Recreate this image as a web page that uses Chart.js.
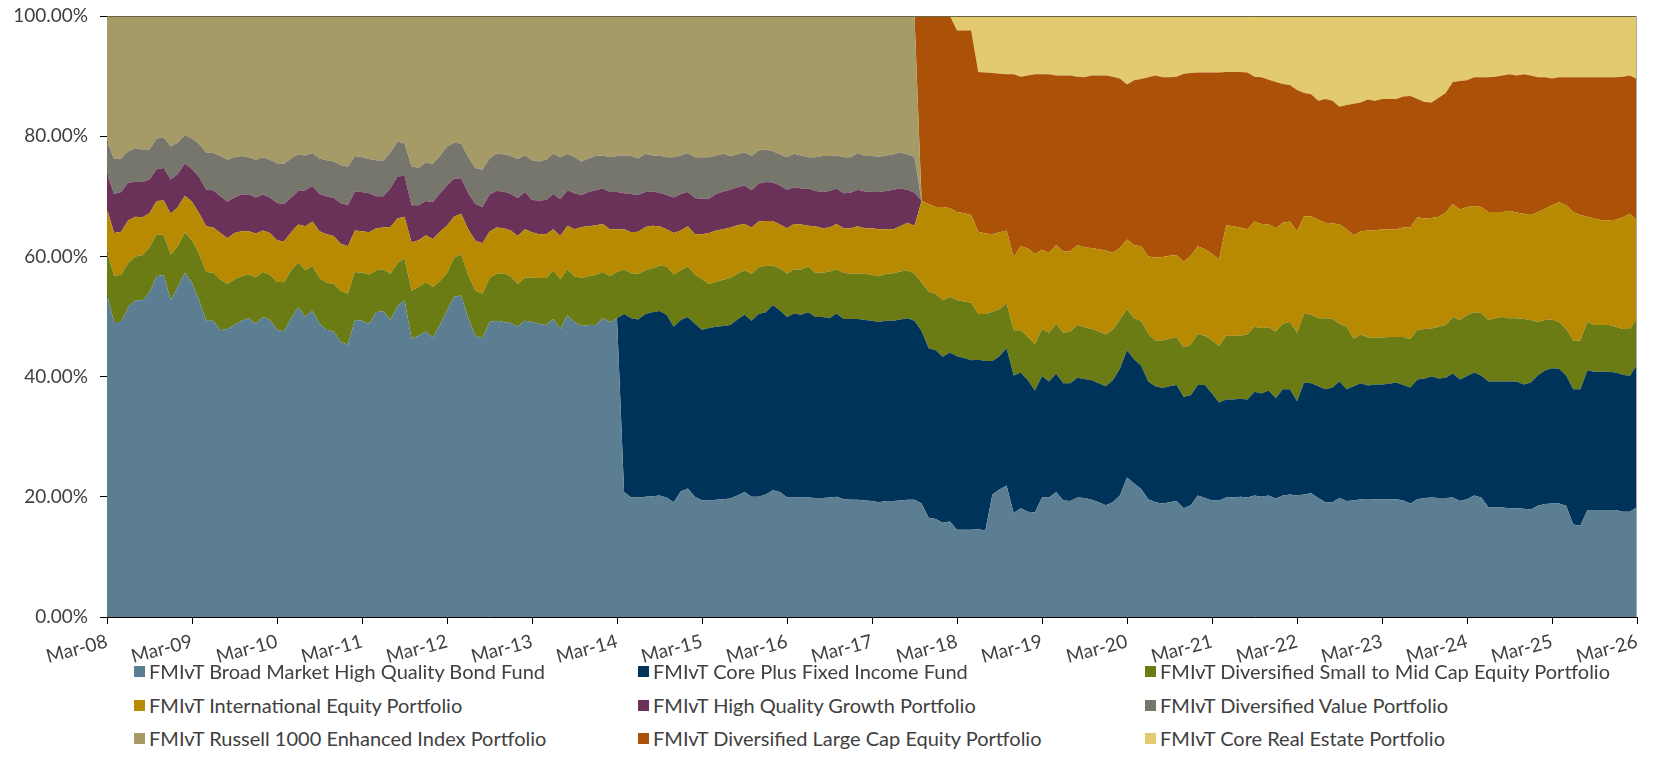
<!DOCTYPE html>
<html>
<head>
<meta charset="utf-8">
<title>FMIvT allocation</title>
<script src="https://cdn.jsdelivr.net/npm/chart.js@4.4.1/dist/chart.umd.min.js"></script>
<style>
    body { margin: 0; background: #ffffff; }
    #wrap { position: relative; width: 1654px; height: 782px; overflow: hidden; }
    #allocationChart { position: absolute; left: 0; top: 0; }
    .legendItem {
        position: absolute;
        display: flex;
        align-items: center;
        height: 24px;
        white-space: nowrap;
        font-family: Lato, "Open Sans", sans-serif;
        font-size: 20px;
        color: #404040;
    }
    .legendBox { width: 11px; height: 11px; margin-right: 4px; }
</style>
</head>
<body>
<div id="wrap">
    <canvas id="allocationChart" width="1654" height="672"></canvas>
    <div id="legend"></div>
</div>
<script>
// monthly data, Mar-08 .. Mar-26 (217 months), percent of plan assets
const monthNames = ['Jan', 'Feb', 'Mar', 'Apr', 'May', 'Jun', 'Jul', 'Aug', 'Sep', 'Oct', 'Nov', 'Dec'];
const firstYear = 2008;
const firstMonth = 2; // March
const monthCount = 217;

const seriesNames = [
    'FMIvT Broad Market High Quality Bond Fund',
    'FMIvT Core Plus Fixed Income Fund',
    'FMIvT Diversified Small to Mid Cap Equity Portfolio',
    'FMIvT International Equity Portfolio',
    'FMIvT High Quality Growth Portfolio',
    'FMIvT Diversified Value Portfolio',
    'FMIvT Russell 1000 Enhanced Index Portfolio',
    'FMIvT Diversified Large Cap Equity Portfolio',
    'FMIvT Core Real Estate Portfolio'
];
const seriesColors = ['#5b7e92', '#003359', '#6a7c13', '#b88a02', '#6a3259', '#77766c', '#a69a67', '#ab5108', '#e3ca6f'];

const bondFund = [
    53.6, 49.1, 49.1, 51.6, 52.7, 52.7, 54.0, 56.7, 56.9, 52.7, 54.9, 57.3,
    55.6, 52.7, 49.3, 49.3, 47.7, 47.9, 48.6, 49.3, 49.7, 48.8, 49.9, 49.4,
    47.8, 47.5, 49.7, 51.6, 49.9, 51.0, 48.8, 47.8, 47.5, 45.8, 45.3, 49.4,
    49.3, 48.8, 50.7, 50.9, 49.4, 51.7, 52.7, 46.3, 46.8, 47.5, 46.5, 48.6,
    51.0, 53.3, 53.5, 49.7, 46.8, 46.4, 49.1, 49.3, 49.1, 48.9, 48.3, 49.3,
    49.1, 48.8, 48.6, 49.6, 47.9, 50.2, 49.1, 48.4, 48.6, 48.6, 49.7, 49.1,
    49.7, 20.8, 19.9, 19.9, 20.0, 20.1, 20.2, 19.9, 19.1, 20.9, 21.4, 20.0,
    19.4, 19.4, 19.5, 19.6, 19.7, 20.2, 20.8, 20.0, 20.0, 20.4, 21.1, 20.8,
    19.9, 19.9, 19.9, 19.9, 19.8, 19.8, 19.9, 20.0, 19.6, 19.5, 19.5, 19.4,
    19.3, 19.1, 19.3, 19.3, 19.4, 19.5, 19.5, 18.9, 16.5, 16.3, 15.7, 15.9,
    14.5, 14.5, 14.5, 14.6, 14.4, 20.4, 21.2, 21.9, 17.3, 18.1, 17.5, 17.4,
    19.9, 19.9, 20.8, 19.4, 19.3, 19.9, 19.8, 19.5, 19.1, 18.6, 19.1, 20.2,
    23.2, 22.2, 21.3, 19.6, 19.1, 18.9, 19.1, 19.3, 18.1, 18.6, 20.2, 19.8,
    19.4, 19.4, 19.9, 19.9, 20.0, 19.9, 20.2, 20.0, 20.2, 19.7, 20.2, 20.4,
    20.2, 20.4, 20.6, 19.8, 19.1, 19.1, 19.8, 19.3, 19.4, 19.6, 19.5, 19.6,
    19.6, 19.6, 19.6, 19.4, 18.9, 19.6, 19.8, 19.9, 19.8, 19.8, 19.9, 19.3,
    19.6, 20.2, 19.9, 18.3, 18.2, 18.2, 18.1, 18.1, 18.0, 17.9, 18.5, 18.8,
    18.9, 18.9, 18.5, 15.4, 15.2, 17.8, 17.8, 17.8, 17.8, 17.8, 17.5, 17.5,
    18.3
];

const corePlus = [
    0, 0, 0, 0, 0, 0, 0, 0, 0, 0, 0, 0,
    0, 0, 0, 0, 0, 0, 0, 0, 0, 0, 0, 0,
    0, 0, 0, 0, 0, 0, 0, 0, 0, 0, 0, 0,
    0, 0, 0, 0, 0, 0, 0, 0, 0, 0, 0, 0,
    0, 0, 0, 0, 0, 0, 0, 0, 0, 0, 0, 0,
    0, 0, 0, 0, 0, 0, 0, 0, 0, 0, 0, 0,
    0, 29.6, 29.8, 29.6, 30.4, 30.6, 30.7, 30.4, 29.2, 28.5, 28.5, 28.8,
    28.4, 28.7, 28.8, 28.8, 28.9, 29.3, 29.5, 29.3, 30.4, 30.3, 30.8, 30.2,
    30.0, 30.6, 30.4, 30.8, 30.1, 30.1, 29.8, 30.5, 30.0, 30.1, 30.1, 30.0,
    30.0, 30.0, 30.0, 30.0, 30.1, 30.2, 29.8, 28.7, 28.2, 28.1, 27.6, 28.1,
    28.9, 28.6, 28.2, 28.2, 28.2, 22.2, 22.2, 22.8, 22.9, 22.6, 21.9, 20.3,
    20.2, 19.3, 19.7, 19.5, 19.6, 19.9, 19.8, 19.9, 19.8, 19.8, 20.3, 21.1,
    21.2, 20.7, 20.5, 19.6, 19.3, 19.2, 19.3, 19.3, 18.5, 18.3, 18.4, 18.8,
    17.8, 16.3, 16.3, 16.3, 16.3, 16.3, 17.3, 17.2, 17.5, 16.7, 17.7, 17.5,
    15.7, 18.6, 18.3, 18.6, 18.8, 19.1, 19.4, 18.6, 19.0, 19.3, 19.0, 19.1,
    19.1, 19.2, 19.4, 19.2, 19.3, 19.9, 19.9, 20.1, 19.9, 20.0, 20.6, 20.2,
    20.5, 20.5, 20.3, 20.9, 21.0, 21.0, 21.1, 21.1, 20.7, 21.1, 21.7, 22.2,
    22.5, 22.4, 21.7, 22.5, 22.7, 23.2, 23.0, 23.0, 23.0, 22.9, 22.8, 22.6,
    23.7
];

const smallMidCap = [
    7.2, 7.6, 7.9, 7.3, 7.3, 7.5, 7.5, 7.0, 6.6, 7.6, 6.8, 6.7,
    7.1, 7.7, 8.1, 8.0, 8.4, 7.5, 7.6, 7.4, 7.3, 7.7, 7.5, 7.5,
    8.0, 8.2, 8.0, 7.4, 7.8, 7.4, 7.6, 7.8, 7.9, 8.5, 8.5, 8.0,
    8.0, 8.2, 7.0, 6.9, 7.7, 7.1, 7.0, 8.0, 8.1, 8.2, 8.4, 7.3,
    6.2, 6.5, 6.8, 7.2, 7.5, 7.4, 7.3, 7.8, 8.1, 7.8, 7.1, 7.2,
    7.4, 7.6, 7.8, 8.1, 8.3, 7.6, 7.6, 8.0, 8.1, 8.3, 7.7, 7.6,
    7.7, 7.4, 7.5, 7.6, 7.3, 7.3, 7.6, 8.0, 8.7, 8.3, 8.4, 8.2,
    8.4, 7.3, 7.5, 7.7, 7.8, 7.6, 7.4, 7.8, 7.8, 7.7, 6.6, 7.0,
    7.2, 7.3, 7.5, 7.6, 7.4, 7.4, 7.8, 7.3, 7.7, 7.5, 7.5, 7.7,
    7.6, 7.6, 7.8, 7.9, 8.0, 8.0, 7.8, 8.0, 9.4, 9.4, 9.4, 9.3,
    9.3, 9.4, 9.6, 7.6, 7.8, 8.2, 7.8, 7.5, 7.5, 7.0, 7.2, 7.7,
    7.8, 8.1, 8.3, 8.4, 8.6, 8.8, 8.6, 8.5, 8.6, 8.6, 8.4, 8.2,
    6.8, 6.8, 7.5, 7.9, 7.6, 7.9, 7.9, 7.9, 8.3, 8.4, 8.5, 8.2,
    8.8, 9.4, 10.6, 10.6, 10.5, 10.8, 10.8, 10.9, 10.5, 11.1, 10.9, 11.2,
    11.4, 11.5, 11.4, 11.3, 11.8, 11.4, 9.6, 10.4, 7.9, 8.1, 8.0, 7.8,
    7.8, 7.8, 7.6, 8.0, 8.0, 8.3, 8.2, 8.0, 8.6, 8.8, 9.4, 9.9,
    10.1, 10.0, 10.4, 10.2, 10.5, 10.7, 10.5, 10.5, 10.9, 10.4, 8.9, 8.4,
    8.1, 7.8, 7.7, 8.1, 8.1, 8.1, 7.8, 7.8, 7.8, 7.6, 7.6, 7.8,
    7.7
];

const international = [
    7.1, 7.2, 7.1, 7.1, 6.6, 6.3, 5.7, 5.5, 5.8, 6.8, 6.5, 6.1,
    6.4, 6.8, 7.6, 7.5, 7.8, 7.6, 7.7, 7.5, 7.2, 7.3, 6.9, 7.0,
    6.9, 6.8, 6.3, 6.3, 7.3, 7.4, 7.8, 8.1, 8.0, 7.8, 7.9, 6.9,
    6.9, 7.0, 7.0, 7.0, 7.8, 7.5, 6.9, 8.0, 7.8, 7.8, 8.0, 8.2,
    7.9, 6.8, 6.8, 7.6, 8.3, 8.4, 7.7, 7.7, 7.5, 7.6, 8.0, 8.0,
    7.5, 7.3, 7.3, 6.8, 7.2, 7.3, 7.8, 8.5, 8.3, 8.3, 8.0, 7.8,
    7.1, 6.7, 6.8, 7.0, 7.2, 7.1, 6.5, 6.2, 6.9, 6.6, 6.7, 6.7,
    7.5, 8.5, 8.5, 8.4, 8.4, 8.1, 7.7, 7.7, 7.6, 7.5, 7.4, 7.3,
    7.6, 7.6, 7.5, 6.8, 7.7, 7.4, 7.3, 7.6, 7.4, 7.6, 7.9, 7.6,
    7.8, 7.8, 7.4, 7.3, 7.5, 7.9, 8.0, 13.6, 14.6, 14.4, 15.5, 14.7,
    14.7, 14.7, 14.6, 13.7, 13.4, 12.9, 12.8, 12.1, 12.2, 14.0, 14.7, 15.0,
    13.2, 13.3, 13.1, 13.5, 13.3, 13.3, 13.3, 13.5, 13.7, 14.0, 12.8, 11.9,
    11.6, 12.2, 12.4, 12.9, 13.8, 13.9, 13.8, 13.7, 14.2, 14.8, 14.6, 14.4,
    14.4, 14.4, 18.4, 18.2, 18.0, 17.5, 17.5, 17.3, 17.1, 17.2, 16.8, 16.7,
    16.9, 16.2, 16.4, 16.4, 15.9, 15.9, 16.5, 16.2, 17.2, 17.2, 17.8, 17.8,
    18.0, 17.9, 17.9, 18.2, 18.6, 18.7, 18.4, 18.4, 18.3, 18.7, 18.8, 18.4,
    18.0, 17.7, 17.6, 18.0, 17.7, 17.5, 17.9, 17.6, 17.5, 17.5, 18.3, 18.5,
    19.0, 19.9, 20.6, 21.4, 20.9, 17.5, 17.7, 17.4, 17.4, 17.8, 18.6, 19.2,
    16.3
];

const highQualityGrowth = [
    5.8, 6.5, 6.6, 6.3, 5.8, 5.9, 5.6, 5.3, 5.4, 5.7, 5.5, 5.4,
    5.4, 6.0, 6.1, 6.2, 6.1, 6.1, 5.9, 6.1, 6.1, 6.0, 6.0, 5.9,
    6.2, 6.2, 5.8, 5.6, 6.0, 5.9, 6.2, 6.3, 6.3, 6.8, 6.8, 6.5,
    6.5, 6.5, 5.3, 5.2, 6.4, 7.0, 6.8, 6.2, 5.8, 5.7, 6.1, 6.4,
    6.7, 6.3, 5.9, 6.0, 6.1, 6.0, 6.2, 6.1, 6.1, 6.1, 6.3, 6.2,
    5.4, 5.6, 5.7, 5.9, 6.1, 5.9, 6.0, 5.3, 5.7, 5.8, 5.9, 6.2,
    6.2, 6.0, 6.4, 6.1, 5.8, 5.7, 5.6, 5.7, 5.9, 6.1, 5.7, 6.0,
    5.9, 5.7, 6.1, 6.3, 6.3, 6.3, 6.4, 6.2, 6.3, 6.5, 6.4, 6.5,
    6.4, 6.1, 6.0, 6.2, 5.9, 6.0, 6.1, 5.9, 5.8, 5.9, 6.1, 6.1,
    6.0, 6.2, 6.4, 6.6, 6.3, 5.5, 5.5, 0, 0, 0, 0, 0,
    0, 0, 0, 0, 0, 0, 0, 0, 0, 0, 0, 0,
    0, 0, 0, 0, 0, 0, 0, 0, 0, 0, 0, 0,
    0, 0, 0, 0, 0, 0, 0, 0, 0, 0, 0, 0,
    0, 0, 0, 0, 0, 0, 0, 0, 0, 0, 0, 0,
    0, 0, 0, 0, 0, 0, 0, 0, 0, 0, 0, 0,
    0, 0, 0, 0, 0, 0, 0, 0, 0, 0, 0, 0,
    0, 0, 0, 0, 0, 0, 0, 0, 0, 0, 0, 0,
    0, 0, 0, 0, 0, 0, 0, 0, 0, 0, 0, 0,
    0
];

const diversifiedValue = [
    5.5, 5.8, 5.6, 5.2, 5.6, 5.4, 5.0, 5.1, 5.1, 5.5, 5.2, 4.7,
    5.1, 5.5, 6.2, 6.2, 6.7, 7.0, 6.7, 6.4, 6.2, 6.3, 6.2, 6.3,
    6.6, 6.7, 6.5, 6.1, 5.8, 5.5, 5.9, 6.0, 6.1, 6.3, 6.4, 5.9,
    5.8, 5.7, 6.0, 5.9, 6.0, 5.8, 5.4, 6.5, 6.2, 6.4, 6.4, 6.2,
    6.5, 6.0, 5.8, 6.0, 6.0, 6.2, 6.0, 6.2, 6.2, 6.3, 6.5, 6.1,
    6.6, 6.5, 6.7, 6.7, 7.0, 6.1, 6.0, 5.6, 5.6, 5.7, 5.5, 5.8,
    6.0, 6.3, 6.3, 6.1, 6.4, 6.0, 6.2, 6.3, 6.7, 6.4, 6.5, 6.8,
    6.9, 6.9, 6.4, 6.3, 5.6, 5.5, 5.5, 5.7, 5.5, 5.4, 5.2, 5.2,
    5.4, 5.6, 5.5, 5.2, 5.6, 6.0, 5.8, 5.5, 6.0, 5.9, 6.1, 5.9,
    6.0, 5.9, 5.9, 5.9, 6.0, 5.9, 5.9, 0, 0, 0, 0, 0,
    0, 0, 0, 0, 0, 0, 0, 0, 0, 0, 0, 0,
    0, 0, 0, 0, 0, 0, 0, 0, 0, 0, 0, 0,
    0, 0, 0, 0, 0, 0, 0, 0, 0, 0, 0, 0,
    0, 0, 0, 0, 0, 0, 0, 0, 0, 0, 0, 0,
    0, 0, 0, 0, 0, 0, 0, 0, 0, 0, 0, 0,
    0, 0, 0, 0, 0, 0, 0, 0, 0, 0, 0, 0,
    0, 0, 0, 0, 0, 0, 0, 0, 0, 0, 0, 0,
    0, 0, 0, 0, 0, 0, 0, 0, 0, 0, 0, 0,
    0
];

const russell1000 = [
    20.8, 23.8, 23.7, 22.5, 22.0, 22.2, 22.2, 20.4, 20.2, 21.7, 21.1, 19.8,
    20.4, 21.3, 22.7, 22.8, 23.3, 23.9, 23.5, 23.3, 23.5, 23.9, 23.5, 23.9,
    24.5, 24.6, 23.7, 23.0, 23.2, 22.8, 23.7, 24.0, 24.2, 24.8, 25.1, 23.3,
    23.5, 23.8, 24.0, 24.1, 22.7, 20.9, 21.2, 25.0, 25.3, 24.4, 24.6, 23.3,
    21.7, 21.1, 21.2, 23.5, 25.3, 25.6, 23.7, 22.9, 23.0, 23.3, 23.8, 23.2,
    24.0, 24.2, 23.9, 22.9, 23.5, 22.9, 23.5, 24.2, 23.7, 23.3, 23.2, 23.5,
    23.3, 23.2, 23.3, 23.7, 22.9, 23.2, 23.2, 23.5, 23.5, 23.2, 22.8, 23.5,
    23.5, 23.5, 23.2, 22.9, 23.3, 23.0, 22.7, 23.3, 22.4, 22.2, 22.5, 23.0,
    23.5, 22.9, 23.2, 23.5, 23.5, 23.3, 23.3, 23.2, 23.5, 23.5, 22.8, 23.3,
    23.3, 23.4, 23.2, 23.0, 22.7, 23.0, 23.5, 0, 0, 0, 0, 0,
    0, 0, 0, 0, 0, 0, 0, 0, 0, 0, 0, 0,
    0, 0, 0, 0, 0, 0, 0, 0, 0, 0, 0, 0,
    0, 0, 0, 0, 0, 0, 0, 0, 0, 0, 0, 0,
    0, 0, 0, 0, 0, 0, 0, 0, 0, 0, 0, 0,
    0, 0, 0, 0, 0, 0, 0, 0, 0, 0, 0, 0,
    0, 0, 0, 0, 0, 0, 0, 0, 0, 0, 0, 0,
    0, 0, 0, 0, 0, 0, 0, 0, 0, 0, 0, 0,
    0, 0, 0, 0, 0, 0, 0, 0, 0, 0, 0, 0,
    0
];

const largeCap = [
    0, 0, 0, 0, 0, 0, 0, 0, 0, 0, 0, 0,
    0, 0, 0, 0, 0, 0, 0, 0, 0, 0, 0, 0,
    0, 0, 0, 0, 0, 0, 0, 0, 0, 0, 0, 0,
    0, 0, 0, 0, 0, 0, 0, 0, 0, 0, 0, 0,
    0, 0, 0, 0, 0, 0, 0, 0, 0, 0, 0, 0,
    0, 0, 0, 0, 0, 0, 0, 0, 0, 0, 0, 0,
    0, 0, 0, 0, 0, 0, 0, 0, 0, 0, 0, 0,
    0, 0, 0, 0, 0, 0, 0, 0, 0, 0, 0, 0,
    0, 0, 0, 0, 0, 0, 0, 0, 0, 0, 0, 0,
    0, 0, 0, 0, 0, 0, 0, 30.8, 31.3, 31.8, 31.8, 32.0,
    30.2, 30.4, 30.7, 26.6, 26.8, 26.8, 26.4, 26.0, 30.4, 28.2, 28.8, 29.9,
    29.2, 29.7, 28.2, 29.3, 29.3, 28.0, 28.3, 28.7, 28.9, 29.1, 29.3, 28.2,
    25.8, 27.4, 27.8, 29.8, 30.3, 29.9, 29.7, 29.7, 31.3, 30.4, 28.9, 29.4,
    30.2, 31.1, 25.5, 25.7, 25.9, 26.1, 24.1, 24.4, 24.1, 24.3, 23.1, 22.7,
    23.5, 20.5, 20.3, 19.8, 20.6, 20.4, 19.6, 20.7, 21.9, 21.4, 21.8, 21.6,
    21.7, 21.7, 21.7, 21.8, 21.9, 19.7, 19.4, 19.2, 19.8, 19.9, 20.3, 21.4,
    21.1, 21.4, 21.6, 22.4, 22.5, 22.7, 22.7, 22.8, 23.2, 23.2, 22.4, 21.9,
    21.1, 20.8, 21.3, 22.4, 22.9, 23.2, 23.5, 23.8, 23.8, 23.7, 23.4, 23.0,
    23.5
];

const realEstate = [
    0, 0, 0, 0, 0, 0, 0, 0, 0, 0, 0, 0,
    0, 0, 0, 0, 0, 0, 0, 0, 0, 0, 0, 0,
    0, 0, 0, 0, 0, 0, 0, 0, 0, 0, 0, 0,
    0, 0, 0, 0, 0, 0, 0, 0, 0, 0, 0, 0,
    0, 0, 0, 0, 0, 0, 0, 0, 0, 0, 0, 0,
    0, 0, 0, 0, 0, 0, 0, 0, 0, 0, 0, 0,
    0, 0, 0, 0, 0, 0, 0, 0, 0, 0, 0, 0,
    0, 0, 0, 0, 0, 0, 0, 0, 0, 0, 0, 0,
    0, 0, 0, 0, 0, 0, 0, 0, 0, 0, 0, 0,
    0, 0, 0, 0, 0, 0, 0, 0, 0, 0, 0, 0,
    2.4, 2.4, 2.4, 9.3, 9.4, 9.5, 9.6, 9.7, 9.7, 10.1, 9.9, 9.7,
    9.7, 9.7, 9.9, 9.9, 9.9, 10.1, 10.2, 9.9, 9.9, 9.9, 10.1, 10.4,
    11.4, 10.7, 10.5, 10.2, 9.9, 10.2, 10.2, 10.1, 9.6, 9.5, 9.4, 9.4,
    9.4, 9.4, 9.3, 9.3, 9.3, 9.4, 10.1, 10.2, 10.6, 11.0, 11.3, 11.5,
    12.3, 12.8, 13.0, 14.1, 13.8, 14.1, 15.1, 14.8, 14.6, 14.4, 13.9, 14.1,
    13.8, 13.8, 13.8, 13.4, 13.3, 13.8, 14.3, 14.4, 13.6, 12.8, 11.0, 10.8,
    10.7, 10.2, 10.2, 10.2, 10.1, 9.9, 9.7, 9.9, 9.7, 9.9, 10.2, 10.2,
    10.4, 10.2, 10.2, 10.2, 10.2, 10.2, 10.2, 10.2, 10.2, 10.2, 10.1, 9.9,
    10.5
];

const yTicks = [0, 20, 40, 60, 80, 100];

const allSeries = [bondFund, corePlus, smallMidCap, international, highQualityGrowth,
    diversifiedValue, russell1000, largeCap, realEstate];

const fontFamily = 'Lato, "Open Sans", sans-serif';
const textColor = '#404040';

function buildLabels() {
    var labels = [];
    for (var i = 0; i < monthCount; i++) {
        var m = (firstMonth + i) % 12;
        var y = firstYear + Math.floor((firstMonth + i) / 12);
        labels.push(monthNames[m] + '-' + String(y).slice(2));
    }
    return labels;
}

// 100% stacked: each month shown as share of that month's total
function toShares(series) {
    return series.map(function (values) {
        return values.map(function (v, i) {
            var total = 0;
            allSeries.forEach(function (s) { total += s[i]; });
            return v / total * 100;
        });
    });
}

const frameLines = {
    id: 'frameLines',
    afterDatasetsDraw: function (chart) {
        var ctx = chart.ctx;
        var a = chart.chartArea;
        ctx.save();
        ctx.lineWidth = 1;
        ctx.strokeStyle = '#6b6443';
        ctx.beginPath();
        ctx.moveTo(a.left, Math.round(a.top) + 0.5);
        ctx.lineTo(a.right, Math.round(a.top) + 0.5);
        ctx.stroke();
        ctx.strokeStyle = '#a8a8a8';
        ctx.beginPath();
        ctx.moveTo(Math.round(a.right) - 0.5, a.top);
        ctx.lineTo(Math.round(a.right) - 0.5, a.bottom);
        ctx.stroke();
        ctx.restore();
    }
};

function drawChart() {
    const canvas = document.getElementById('allocationChart');
    const shares = toShares(allSeries);

    const datasets = seriesNames.map(function (name, k) {
        return {
            label: name,
            data: shares[k],
            backgroundColor: seriesColors[k],
            borderColor: seriesColors[k],
            borderWidth: 0,
            pointRadius: 0,
            tension: 0,
            fill: k === 0 ? 'origin' : '-1'
        };
    });

    const chart = new Chart(canvas, {
        type: 'line',
        data: {
            labels: buildLabels(),
            datasets: datasets
        },
        options: {
            responsive: false,
            devicePixelRatio: 1,
            animation: false,
            layout: {
                padding: { left: 0, right: 17, top: 16, bottom: 0 }
            },
            plugins: {
                legend: { display: false },
                tooltip: { enabled: false }
            },
            scales: {
                x: {
                    offset: false,
                    grid: {
                        display: true,
                        drawOnChartArea: false,
                        drawTicks: true,
                        tickLength: 7,
                        color: '#000000'
                    },
                    border: { display: true, color: '#000000', width: 1 },
                    ticks: {
                        autoSkip: false,
                        minRotation: 15,
                        maxRotation: 15,
                        padding: 6,
                        color: textColor,
                        font: { family: fontFamily, size: 19 },
                        callback: function (value, index) {
                            return index % 12 === 0 ? this.getLabelForValue(value) : null;
                        }
                    },
                    afterFit: function (axis) {
                        axis.height = 55;
                        axis.paddingLeft = 0;
                        axis.paddingRight = 0;
                    }
                },
                y: {
                    stacked: true,
                    min: 0,
                    max: 100,
                    grid: {
                        display: true,
                        drawOnChartArea: false,
                        drawTicks: true,
                        tickLength: 7,
                        color: '#000000'
                    },
                    border: { display: true, color: '#000000', width: 1 },
                    afterBuildTicks: function (axis) {
                        axis.ticks = yTicks.map(function (v) { return { value: v }; });
                    },
                    ticks: {
                        padding: 12,
                        color: textColor,
                        font: { family: fontFamily, size: 19 },
                        callback: function (value) {
                            return value.toFixed(2) + '%';
                        }
                    },
                    afterFit: function (axis) {
                        axis.width = 107;
                        axis.paddingTop = 0;
                        axis.paddingBottom = 0;
                    }
                }
            }
        },
        plugins: [frameLines]
    });

    drawLegend(chart);
}

function drawLegend(chart) {
    const legend = document.getElementById('legend');
    const colX = [134, 638, 1145];
    const rowY = [659, 693, 726];

    chart.data.datasets.forEach(function (ds, k) {
        var item = document.createElement('div');
        item.className = 'legendItem';
        item.style.left = colX[k % 3] + 'px';
        item.style.top = rowY[Math.floor(k / 3)] + 'px';

        var box = document.createElement('span');
        box.className = 'legendBox';
        box.style.background = ds.backgroundColor;

        var text = document.createElement('span');
        text.textContent = ds.label;

        item.appendChild(box);
        item.appendChild(text);
        legend.appendChild(item);
    });
}

drawChart();
</script>
</body>
</html>
